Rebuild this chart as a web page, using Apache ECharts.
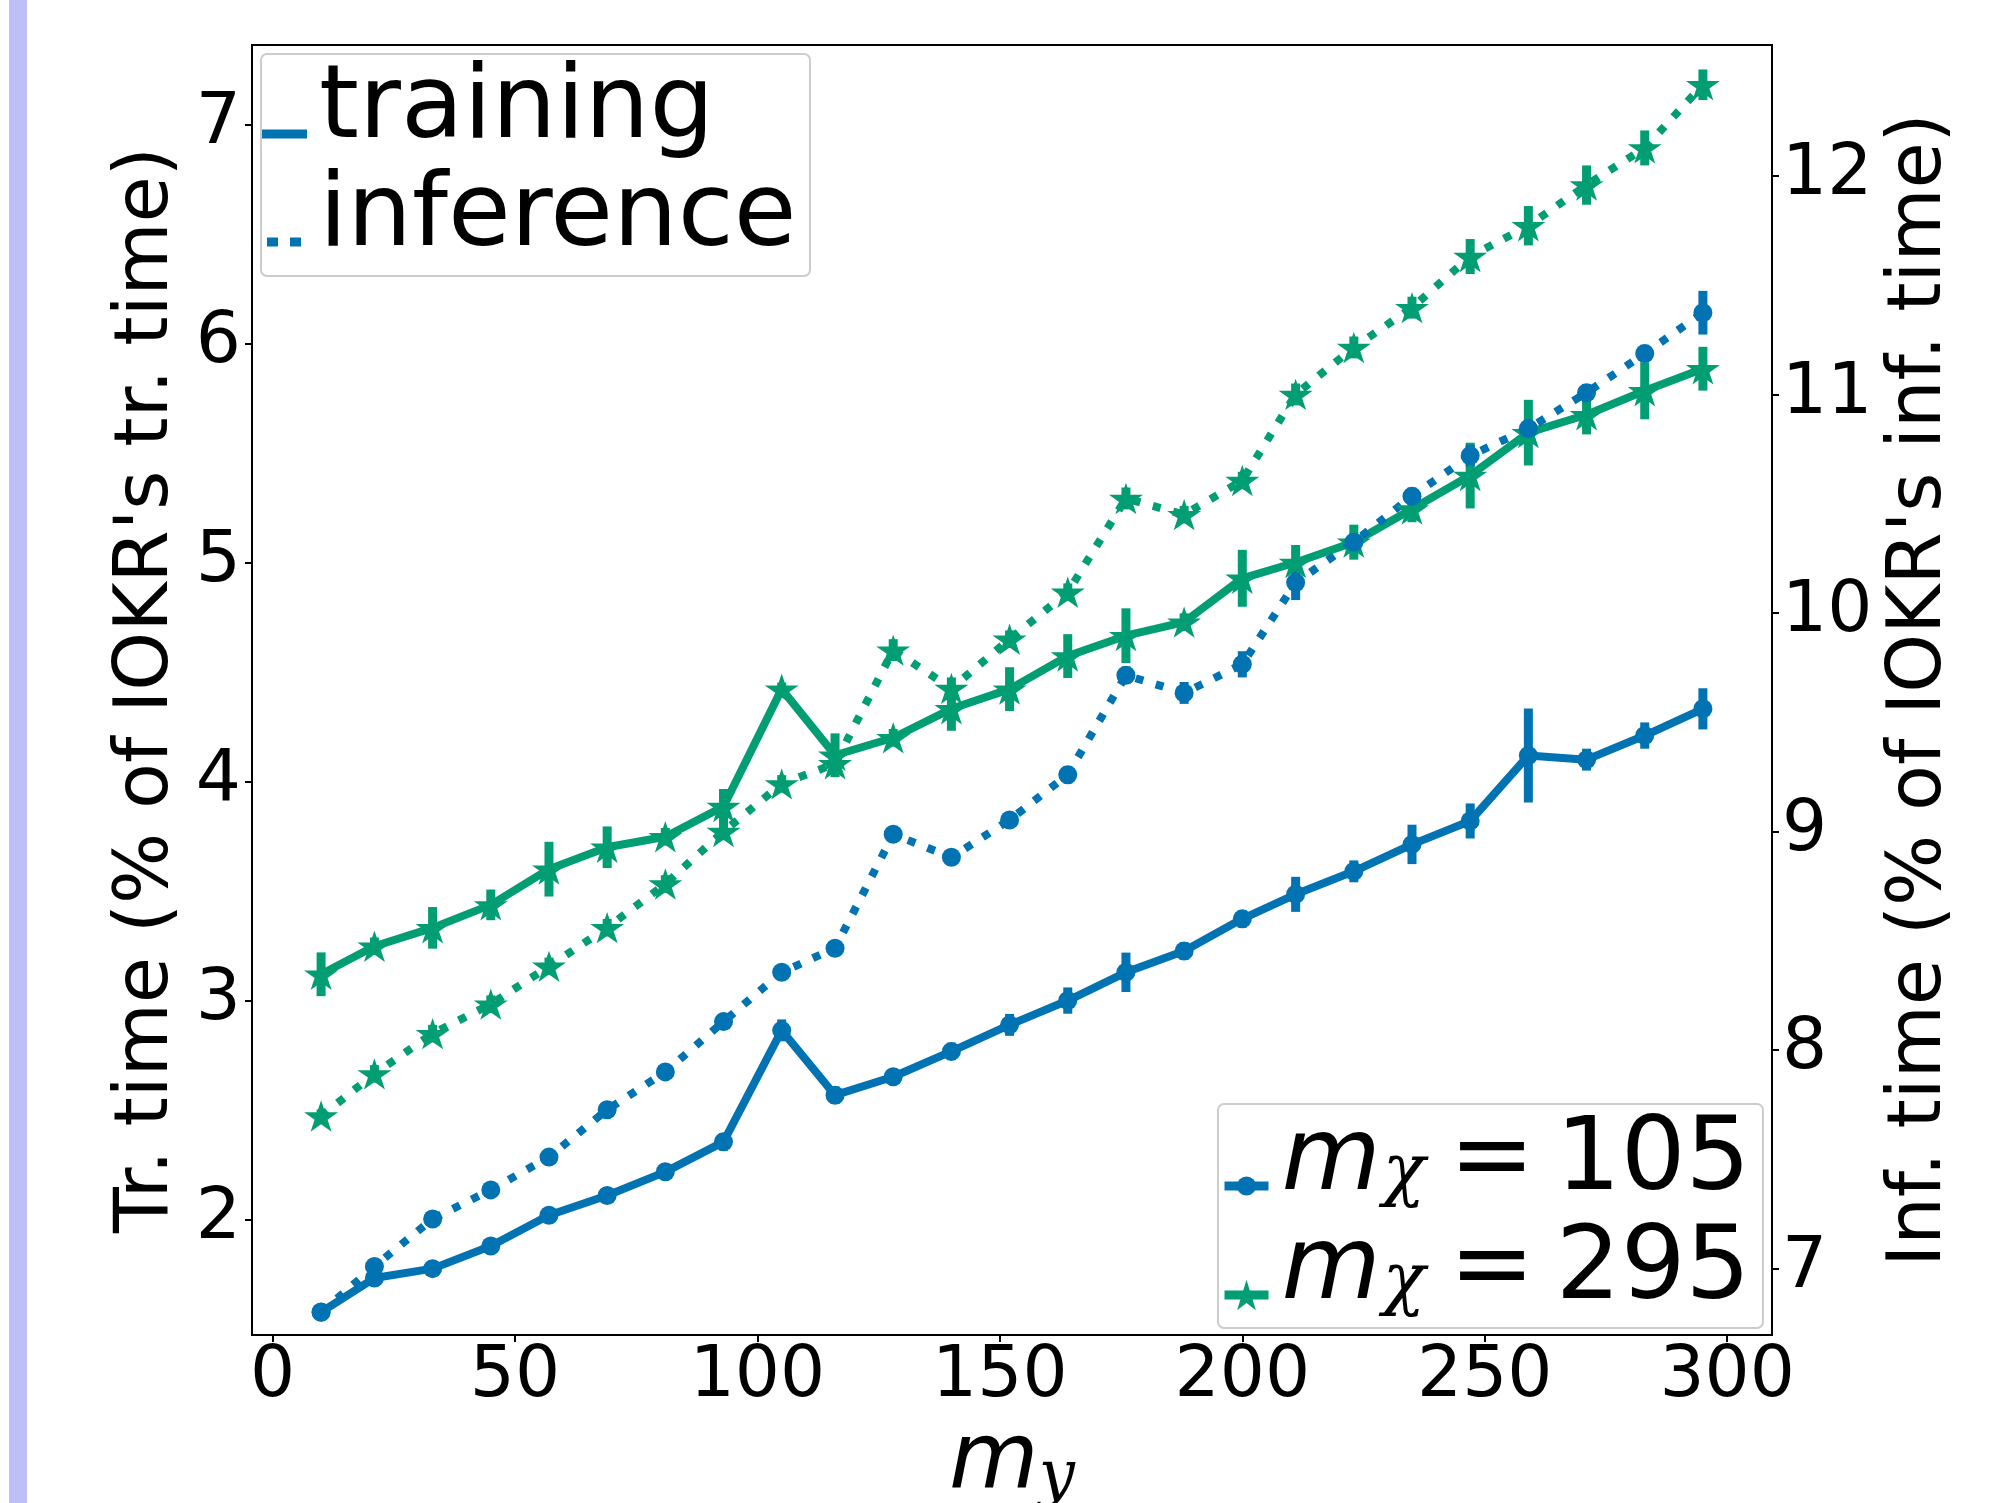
<!DOCTYPE html>
<html><head><meta charset="utf-8">
<script src="https://cdn.jsdelivr.net/npm/echarts@6/dist/echarts.min.js"></script>
<style>html,body{margin:0;padding:0;background:#fff}#chart{width:2003px;height:1503px}</style>
</head><body><div id="chart"></div>
<script>
// ---- data ----
const mY = [10,21,33,45,57,69,81,93,105,116,128,140,152,164,176,188,200,211,223,235,247,259,271,283,295];
const xTicks = [0,50,100,150,200,250,300];
const leftTicks = [2,3,4,5,6,7];
const rightTicks = [7,8,9,10,11,12];

const trainTime105 = [1.578,1.733,1.776,1.879,2.02,2.11,2.218,2.355,2.864,2.568,2.652,2.768,2.889,3.0,3.129,3.226,3.373,3.485,3.59,3.713,3.82,4.119,4.10,4.21,4.332];
const trainErr105  = [0.02,0.02,0.02,0.03,0.03,0.03,0.03,0.04,0.05,0.04,0.03,0.04,0.05,0.06,0.09,0.04,0.04,0.08,0.05,0.09,0.08,0.215,0.05,0.06,0.094];
const trainTime295 = [3.12,3.248,3.332,3.437,3.60,3.70,3.748,3.886,4.422,4.12,4.2,4.332,4.422,4.573,4.666,4.728,4.928,5.0,5.093,5.244,5.397,5.593,5.675,5.784,5.885];
const trainErr295  = [0.1,0.04,0.095,0.07,0.125,0.095,0.04,0.08,0.03,0.1,0.04,0.1,0.1,0.1,0.125,0.04,0.13,0.08,0.08,0.06,0.15,0.15,0.09,0.13,0.1];
const infTime105 = [6.80,7.01,7.227,7.36,7.51,7.727,7.9,8.13,8.356,8.466,8.987,8.882,9.053,9.26,9.715,9.634,9.765,10.139,10.324,10.534,10.72,10.844,11.008,11.187,11.374];
const infErr105  = [0.02,0.02,0.02,0.02,0.02,0.02,0.02,0.03,0.03,0.03,0.03,0.03,0.03,0.04,0.04,0.05,0.06,0.08,0.04,0.04,0.05,0.04,0.04,0.04,0.1];
const infTime295 = [7.698,7.891,8.075,8.21,8.383,8.56,8.76,9.0,9.218,9.31,9.83,9.655,9.88,10.095,10.524,10.45,10.606,11.0,11.215,11.397,11.631,11.772,11.958,12.128,12.417];
const infErr295  = [0.03,0.04,0.04,0.04,0.04,0.04,0.04,0.04,0.04,0.04,0.05,0.05,0.04,0.04,0.05,0.04,0.04,0.05,0.05,0.05,0.08,0.09,0.09,0.08,0.07];

// ---- style ----
const BLUE = '#0173b2', GREEN = '#029e73';
const FONT = 'DejaVu Sans';
const STAR = 'path://M50,0 L61.2,34.5 L97.6,34.5 L68.2,55.9 L79.4,90.5 L50,69.1 L20.6,90.5 L31.8,55.9 L2.4,34.5 L38.8,34.5 Z';

function pairs(ys) { return mY.map((x, i) => [x, ys[i]]); }
function errData(ys, es) { return mY.map((x, i) => [x, ys[i] - es[i], ys[i] + es[i]]); }
function errSeries(ys, es, color, yAxisIndex) {
  return {
    type: 'custom', yAxisIndex, data: errData(ys, es), encode: { x: 0, y: [1, 2] },
    silent: true, z: 2,
    renderItem: (params, api) => {
      const x = api.value(0);
      const p1 = api.coord([x, api.value(1)]);
      const p2 = api.coord([x, api.value(2)]);
      return { type: 'line', shape: { x1: p1[0], y1: p1[1], x2: p2[0], y2: p2[1] },
               style: { stroke: color, lineWidth: 9 } };
    }
  };
}
function lineSeries(name, ys, color, yAxisIndex, dotted, symbol, symbolSize) {
  return {
    type: 'line', name, yAxisIndex, data: pairs(ys), symbol, symbolSize,
    symbolKeepAspect: true, showSymbol: true, silent: true, z: 2,
    lineStyle: { color, width: 8, type: dotted ? [8, 13] : 'solid', cap: 'butt', join: 'round' },
    itemStyle: { color, borderWidth: 0 }
  };
}

const mathFmt = name => `{m|m}{s|χ}{e|=}{n|${name}}`;
const mathRich = {
  m: { fontFamily: FONT, fontStyle: 'italic', fontSize: 102, lineHeight: 50, color: '#000' },
  s: { fontFamily: 'DejaVu Serif', fontStyle: 'italic', fontSize: 70, lineHeight: 24, padding: [26, 0, 0, 2], color: '#000' },
  e: { fontFamily: FONT, fontSize: 102, lineHeight: 50, padding: [0, 21, 0, 24], color: '#000' },
  n: { fontFamily: FONT, fontSize: 102, lineHeight: 50, color: '#000' }
};
const plainFmt = name => `{t|${name}}`;
const plainRich = { t: { fontFamily: FONT, fontSize: 102, lineHeight: 50, color: '#000' } };

function legendBox(dataItem, left, top, itemWidth, itemHeight, padLeft, fmt, rich) {
  return {
    data: [dataItem], orient: 'vertical', left, top, padding: 0, itemGap: 0,
    itemWidth, itemHeight, selectedMode: false, formatter: fmt,
    lineStyle: { width: 9 },
    textStyle: { fontFamily: FONT, fontSize: 102, color: '#000', lineHeight: 50,
                 padding: [12, 0, 60, padLeft], rich }
  };
}

const option = {
  animation: false,
  textStyle: { fontFamily: FONT },
  grid: { left: 252, right: 231, top: 45, bottom: 168, show: true, borderColor: '#000', borderWidth: 2,
          backgroundColor: 'transparent', outerBoundsMode: 'none' },
  xAxis: {
    type: 'value', min: -4.25, max: 309.25,
    axisLine: { show: false, onZero: false }, splitLine: { show: false },
    axisTick: { show: true, length: 7, lineStyle: { color: '#000', width: 2 }, customValues: xTicks },
    axisLabel: { customValues: xTicks, fontSize: 71, color: '#000', fontFamily: FONT, margin: 7 },
    name: '{m|m}{s|y}', nameLocation: 'middle', nameGap: 72,
    nameTextStyle: { rich: {
      m: { fontFamily: FONT, fontStyle: 'italic', fontSize: 92, lineHeight: 92, color: '#000' },
      s: { fontFamily: 'DejaVu Serif', fontStyle: 'italic', fontSize: 64, lineHeight: 64, padding: [28, 0, 0, 0], color: '#000' }
    } }
  },
  yAxis: [
    {
      type: 'value', position: 'left', min: 1.473, max: 7.363,
      axisLine: { show: false, onZero: false }, splitLine: { show: false },
      axisTick: { show: true, length: 7, lineStyle: { color: '#000', width: 2 }, customValues: leftTicks },
      axisLabel: { customValues: leftTicks, fontSize: 71, color: '#000', fontFamily: FONT, margin: 11 },
      name: "Tr. time (% of IOKR's tr. time)", nameLocation: 'middle', nameRotate: 90, nameGap: 61,
      nameTextStyle: { fontSize: 75, color: '#000', fontFamily: FONT }
    },
    {
      type: 'value', position: 'right', min: 6.696, max: 12.599,
      axisLine: { show: false, onZero: false }, splitLine: { show: false },
      axisTick: { show: true, length: 7, lineStyle: { color: '#000', width: 2 }, customValues: rightTicks },
      axisLabel: { customValues: rightTicks, fontSize: 71, color: '#000', fontFamily: FONT, margin: 10 },
      name: "Inf. time (% of IOKR's inf. time)", nameLocation: 'middle', nameRotate: 90, nameGap: 101,
      nameTextStyle: { fontSize: 75, color: '#000', fontFamily: FONT }
    }
  ],
  legend: [
    legendBox({ name: 'training', icon: 'path://M0,0 L45,0 L45,9 L0,9 Z' }, 262, 59, 45, 9, 7, plainFmt, plainRich),
    legendBox({ name: 'inference', icon: 'path://M0,0 L11,0 L11,9 L0,9 Z M23,0 L34,0 L34,9 L23,9 Z' }, 267, 167, 34, 9, 13, plainFmt, plainRich),
    legendBox('105', 1220, 1111, 44, 24, 8, mathFmt, mathRich),
    legendBox('295', 1220, 1220, 44, 38, 8, mathFmt, mathRich)
  ],
  graphic: [
    { type: 'rect', shape: { x: 9, y: 0, width: 18, height: 1503 }, style: { fill: '#bfbff7' }, z: 1 },
    { type: 'rect', shape: { x: 261, y: 54, width: 549, height: 222, r: 6 },
      style: { fill: 'rgba(255,255,255,0.8)', stroke: '#cccccc', lineWidth: 2 }, z: 3 },
    { type: 'rect', shape: { x: 1218, y: 1104, width: 545, height: 224, r: 6 },
      style: { fill: 'rgba(255,255,255,0.8)', stroke: '#cccccc', lineWidth: 2 }, z: 3 }
  ],
  series: [
    errSeries(trainTime105, trainErr105, BLUE, 0),
    lineSeries('105', trainTime105, BLUE, 0, false, 'circle', 19),
    errSeries(trainTime295, trainErr295, GREEN, 0),
    lineSeries('295', trainTime295, GREEN, 0, false, STAR, [34, 33]),
    errSeries(infTime105, infErr105, BLUE, 1),
    lineSeries('105', infTime105, BLUE, 1, true, 'circle', 19),
    errSeries(infTime295, infErr295, GREEN, 1),
    lineSeries('295', infTime295, GREEN, 1, true, STAR, [34, 33]),
    { type: 'line', name: 'training', data: [], symbol: 'none', silent: true,
      lineStyle: { color: BLUE, width: 9 }, itemStyle: { color: BLUE } },
    { type: 'line', name: 'inference', data: [], symbol: 'none', silent: true,
      lineStyle: { color: BLUE, width: 9, type: [10, 12] }, itemStyle: { color: BLUE } }
  ]
};
echarts.init(document.getElementById('chart'), null, { renderer: 'canvas' }).setOption(option);
</script>
</body></html>
